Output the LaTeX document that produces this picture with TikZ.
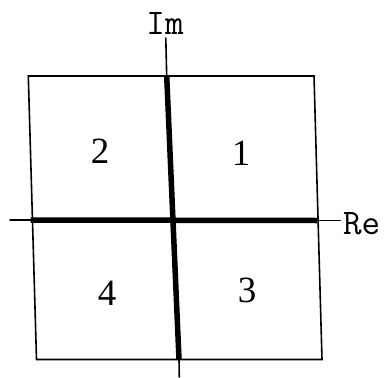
\documentclass[tikz,border=0pt]{standalone}
\usepackage{fontspec}
\setmainfont{Liberation Serif}
\begin{document}
\begin{tikzpicture}[x=1pt,y=-1pt,
  thinline/.style={line width=1.6pt,line cap=round},
  thickline/.style={line width=5.5pt},
  quadlabel/.style={font=\fontsize{37}{37}\selectfont},
  axislabel/.style={font=\ttfamily\fontsize{36}{36}\selectfont}]
\useasboundingbox (0,0) rectangle (387,377);
% box corners
\coordinate (tl) at (28.3,76);
\coordinate (tr) at (314,76);
\coordinate (br) at (322,359.5);
\coordinate (bl) at (36.5,359.5);
% axis points
\coordinate (vt) at (166.7,76);
\coordinate (vb) at (179,359.5);
\coordinate (vtop) at (165.8,38);
\coordinate (vbot) at (179.3,377);
\coordinate (hl) at (30.7,220);
\coordinate (hr) at (317.3,220.5);
\coordinate (hleft) at (10,220);
\coordinate (hright) at (340,220.5);
% outer box
\draw[thinline, line join=miter] (tl) -- (tr) -- (br) -- (bl) -- cycle;
% axes
\draw[thickline] (vt) -- (vb);
\draw[thickline] (hl) -- (hr);
\draw[thinline] (vtop) -- (vt);
\draw[thinline] (vb) -- (vbot);
\draw[thinline] (hleft) -- (hl);
\draw[thinline] (hr) -- (hright);
% labels
\node[axislabel, anchor=base, inner sep=0pt] (im) at (165,35) {Im};
\node[axislabel, anchor=base west, inner sep=0pt] (re) at (343,234) {Re};
\node[quadlabel] (q2) at (100,151) {2};
\node[quadlabel] (q1) at (241,153) {1};
\node[quadlabel] (q4) at (107,293) {4};
\node[quadlabel] (q3) at (247,290) {3};
\end{tikzpicture}
\end{document}
